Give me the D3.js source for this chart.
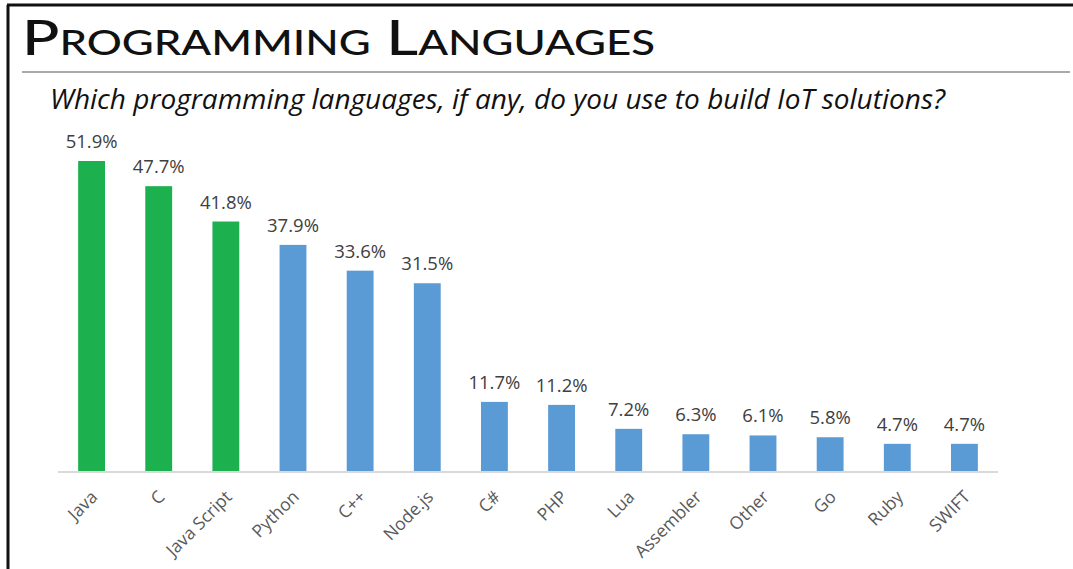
<!DOCTYPE html>
<html>
<head>
<meta charset="utf-8">
<script src="https://cdn.jsdelivr.net/npm/d3@7"></script>
<style>
  html, body { margin: 0; padding: 0; background: #fff; }
  svg { display: block; }
</style>
</head>
<body>
<svg id="chart" width="1073" height="569"></svg>
<script>
// Survey results: share of respondents using each language for IoT work
const languages = ["Java", "C", "Java Script", "Python", "C++", "Node.js", "C#", "PHP", "Lua", "Assembler", "Other", "Go", "Ruby", "SWIFT"];
const shares = [51.9, 47.7, 41.8, 37.9, 33.6, 31.5, 11.7, 11.2, 7.2, 6.3, 6.1, 5.8, 4.7, 4.7];
const highlighted = ["Java", "C", "Java Script"];

const svg = d3.select("#chart");
const W = 1073, H = 569;

// Frame: left and top rules
svg.append("line").attr("x1", 8).attr("x2", 8).attr("y1", 5).attr("y2", H)
  .attr("stroke", "#111").attr("stroke-width", 3);
svg.append("line").attr("x1", 7).attr("x2", W).attr("y1", 5).attr("y2", 5)
  .attr("stroke", "#111").attr("stroke-width", 3);

// Title with small caps
svg.append("text")
  .attr("x", 22).attr("y", 55)
  .attr("font-family", "Lato, 'DejaVu Sans', sans-serif")
  .attr("font-weight", 500)
  .attr("font-size", 48)
  .attr("textLength", 633)
  .attr("lengthAdjust", "spacingAndGlyphs")
  .style("font-variant", "small-caps")
  .attr("fill", "#111")
  .text("Programming Languages");

// Rule under the title
svg.append("line").attr("x1", 22).attr("x2", 1070).attr("y1", 72).attr("y2", 72)
  .attr("stroke", "#555").attr("stroke-width", 1.2);

// Question text
svg.append("text")
  .attr("x", 50).attr("y", 109)
  .attr("font-family", "'Open Sans', 'DejaVu Sans', sans-serif")
  .attr("font-style", "italic")
  .attr("font-size", 27)
  .attr("textLength", 895)
  .attr("lengthAdjust", "spacingAndGlyphs")
  .attr("fill", "#111")
  .text("Which programming languages, if any, do you use to build IoT solutions?");

// Plot area
const x0 = 58, x1 = 998, yBase = 472, yTop = 161;
const x = d3.scaleBand().domain(languages).range([x0, x1]).paddingInner(0.6).paddingOuter(0.3);
const y = d3.scaleLinear().domain([0, 51.9]).range([yBase, yTop]);

const data = languages.map((l, i) => ({ lang: l, v: shares[i] }));

svg.append("g").selectAll("rect").data(data).join("rect")
  .attr("x", d => x(d.lang))
  .attr("width", x.bandwidth())
  .attr("y", d => y(d.v))
  .attr("height", d => y(0) - y(d.v))
  .attr("fill", d => highlighted.includes(d.lang) ? "#1cb04e" : "#5b9bd5");

// Value labels
svg.append("g").selectAll("text").data(data).join("text")
  .attr("x", d => x(d.lang) + x.bandwidth() / 2)
  .attr("y", d => y(d.v) - 13)
  .attr("text-anchor", "middle")
  .attr("font-family", "'Open Sans', 'DejaVu Sans', sans-serif")
  .attr("font-size", 18.5)
  .attr("fill", "#404040")
  .text(d => d.v.toFixed(1) + "%");

// Category axis
const axis = d3.axisBottom(x).tickSize(0).tickPadding(0);
const gx = svg.append("g").attr("transform", `translate(0,${yBase})`).call(axis);
gx.select(".domain").attr("stroke", "#d9d9d9").attr("stroke-width", 2)
  .attr("d", `M${x0},0H${x1}`);
gx.selectAll(".tick text")
  .attr("font-family", "'Open Sans', 'DejaVu Sans', sans-serif")
  .attr("font-size", 17.5)
  .attr("fill", "#595959")
  .attr("text-anchor", "end")
  .attr("dy", null)
  .attr("y", 0)
  .attr("transform", "translate(7,26) rotate(-45)");
</script>
</body>
</html>
